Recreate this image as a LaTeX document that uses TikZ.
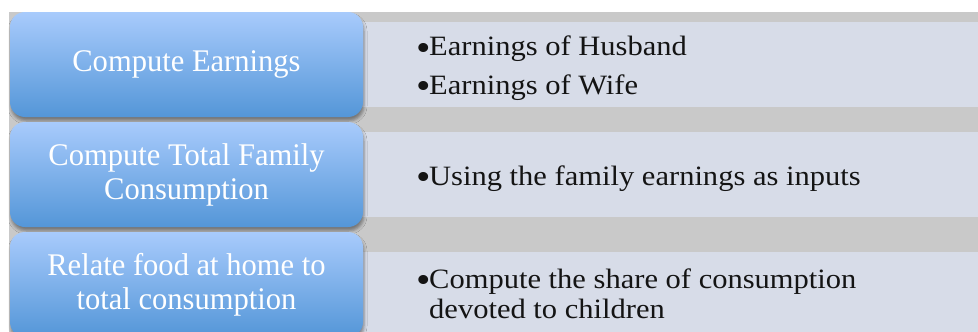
\documentclass[tikz,border=0pt]{standalone}
\usepackage{fontspec}
\setmainfont{Liberation Serif}
\newfontfamily\stepfont[FakeStretch=0.97]{Liberation Serif}
\newfontfamily\itemfont[FakeStretch=1.09]{Liberation Serif}
\usetikzlibrary{shadows.blur}
\definecolor{bandgray}{RGB}{201,201,201}
\definecolor{panelblue}{RGB}{215,220,232}
\definecolor{stepTop}{RGB}{168,203,252}
\definecolor{stepBot}{RGB}{84,150,216}
\definecolor{inktext}{RGB}{20,20,20}
\tikzset{
  stepbox/.style={rectangle, rounded corners=15pt, minimum width=353pt, minimum height=105pt,
    top color=stepTop, bottom color=stepBot, draw=none, text=white, align=center,
    font=\stepfont\fontsize{31.5}{34}\selectfont,
    blur shadow={shadow xshift=1pt, shadow yshift=-4pt, shadow blur radius=3pt, shadow opacity=40}},
  panel/.style={fill=panelblue, draw=none},
  itemtext/.style={anchor=base west, inner sep=0pt, text=inktext, align=left,
    font=\itemfont\fontsize{28}{30}\selectfont},
}
\newcommand{\itembullet}{\makebox[13pt][l]{\raisebox{-4.5pt}{\scalebox{1.35}{\textbullet}}}}
\begin{document}
\begin{tikzpicture}[x=1pt,y=-1pt]
  \useasboundingbox (0,0) rectangle (978,332);
  \clip (0,0) rectangle (978,332);
  % grey backdrop behind the rows
  \fill[bandgray] (9,12) rectangle (978,332);
  % detail panels on the right
  \fill[panel] (340,22) rectangle (978,107);
  \fill[panel] (340,132) rectangle (978,217);
  \fill[panel] (340,252) rectangle (978,345);
  % step boxes on the left
  \node[stepbox] (s1) at (186.5,64.5) {Compute Earnings};
  \node[stepbox] (s2) at (186.5,174.5) {Compute Total Family\\Consumption};
  \node[stepbox] (s3) at (186.5,284.5) {Relate food at home to\\total consumption};
  % bullet texts
  \node[itemtext] (t1a) at (416,56) {\itembullet Earnings of Husband};
  \node[itemtext] (t1b) at (416,94) {\itembullet Earnings of Wife};
  \node[itemtext] (t2) at (416,185) {\itembullet Using the family earnings as inputs};
  \node[itemtext] (t3a) at (416,288) {\itembullet Compute the share of consumption};
  \node[itemtext] (t3b) at (416,318) {\hspace*{13pt}devoted to children};
\end{tikzpicture}
\end{document}
